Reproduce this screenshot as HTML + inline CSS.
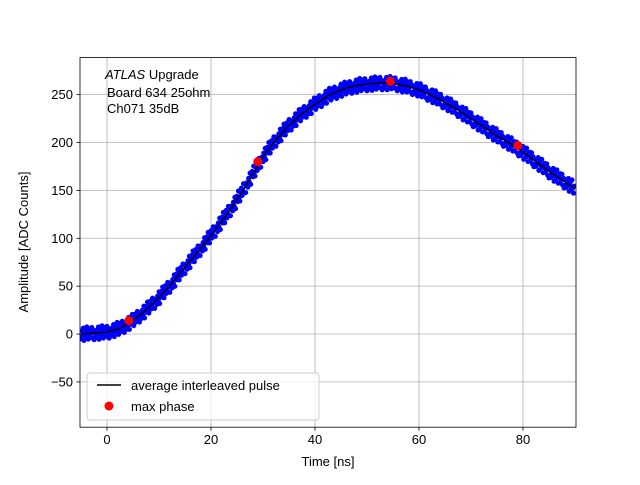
<!DOCTYPE html>
<html><head><meta charset="utf-8"><style>
body{margin:0;background:#fff}
svg text{font-family:"Liberation Sans","DejaVu Sans",sans-serif;fill:#000}
</style></head><body>
<svg id="chart" width="640" height="480" xmlns="http://www.w3.org/2000/svg">
<rect width="640" height="480" fill="#fff"/>
<g id="grid"></g>
<g id="plot"></g>
<rect x="80" y="57.6" width="496" height="369.6" fill="none" stroke="#000" stroke-width="0.8"/>
<g id="ticks"></g>
<text x="328" y="466" font-size="13" text-anchor="middle">Time [ns]</text>
<text x="28" y="242" font-size="13" text-anchor="middle" transform="rotate(-90 28 242)">Amplitude [ADC Counts]</text>
<g font-size="13">
<text x="105" y="79"><tspan font-style="italic">ATLAS</tspan> Upgrade</text>
<text x="107" y="97">Board 634 25ohm</text>
<text x="107" y="113">Ch071 35dB</text>
</g>
<g>
<rect x="87" y="373" width="232" height="47" rx="3" fill="#fff" fill-opacity="0.8" stroke="#ccc"/>
<line x1="97" y1="385" x2="121" y2="385" stroke="#000" stroke-width="1.5"/>
<text x="131" y="390" font-size="13">average interleaved pulse</text>
<circle cx="109" cy="406" r="4.5" fill="red"/>
<text x="131" y="411" font-size="13">max phase</text>
</g>
</svg>
<script>
const times=[-5,-2.5,0,2.5,5,7.5,10,12.5,15,17.5,20,22.5,25,27.5,30,32.5,35,37.5,40,42.5,45,47.5,50,52.5,55,57.5,60,62.5,65,67.5,70,72.5,75,77.5,80,82.5,85,87.5,90];
const avgValues=[0,1,2,6,14,25,38,53,70,86,103,121,140,162,185,203,218,230,240,249,255,259,261,262,262,259,255,249,242,234,225,216,207,199,190,180,170,161,152];
const noiseOffsets=[-5,3,-2,6,-7,1,4,-3,7,-1,-6,2,5,-4,0,6,-5,3,-7,2,-3];
const maxPhaseTimes=[4.2,29,54.5,79];
const maxPhaseValues=[14,180,264,197];
const xTicks=[0,20,40,60,80];
const yTicks=[-50,0,50,100,150,200,250];
const X0=-5.2,X1=90.2,Y0=-97.3,Y1=288.7;
const L=80,R=576,T=57.6,B=427.2;
const sx=v=>L+(v-X0)/(X1-X0)*(R-L);
const sy=v=>B-(v-Y0)/(Y1-Y0)*(B-T);
const NS="http://www.w3.org/2000/svg";
function mk(tag,attrs,parent){const e=document.createElementNS(NS,tag);for(const k in attrs)e.setAttribute(k,attrs[k]);parent.appendChild(e);return e;}
const grid=document.getElementById('grid'),plot=document.getElementById('plot'),ticks=document.getElementById('ticks');
xTicks.forEach(t=>{const x=sx(t);
 const g=mk('line',{x1:x,x2:x,y1:T,y2:B,stroke:'#b0b0b0','stroke-width':0.8},grid);
 
 
 mk('line',{x1:x,x2:x,y1:B,y2:B+3.5,stroke:'#000','stroke-width':0.8},ticks);
 const tx=mk('text',{x:x,y:B+17,'font-size':13,'text-anchor':'middle'},ticks);tx.textContent=String(t).replace('-','\u2212');
 
 });
yTicks.forEach(t=>{const y=sy(t);
 const g=mk('line',{x1:L,x2:R,y1:y,y2:y,stroke:'#b0b0b0','stroke-width':0.8},grid);
 
 
 mk('line',{x1:L-3.5,x2:L,y1:y,y2:y,stroke:'#000','stroke-width':0.8},ticks);
 const tx=mk('text',{x:L-7,y:y+4.5,'font-size':13,'text-anchor':'end'},ticks);tx.textContent=String(t).replace('-','\u2212');
 
 });
const clip=mk('clipPath',{id:'cp'},plot);mk('rect',{x:L,y:T,width:R-L,height:B-T},clip);
const sc=mk('g',{'clip-path':'url(#cp)'},plot);
let k=0;
for(let i=0;i<times.length-1;i++){
 for(let j=0;j<18;j++){const f=j/18;
  const t=times[i]+f*(times[i+1]-times[i]);
  const v=avgValues[i]+f*(avgValues[i+1]-avgValues[i])+noiseOffsets[k%noiseOffsets.length];k++;
  const c=mk('circle',{cx:sx(t),cy:sy(v),r:2.5,fill:'#0000ff'},sc);
  
  }}
const pl=mk('polyline',{points:times.map((t,i)=>sx(t)+','+sy(avgValues[i])).join(' '),fill:'none',stroke:'#000','stroke-width':1.5},sc);


maxPhaseTimes.forEach((t,i)=>{const c=mk('circle',{cx:sx(t),cy:sy(maxPhaseValues[i]),r:4.5,fill:'red'},sc);
 
 });
</script>
</body></html>
